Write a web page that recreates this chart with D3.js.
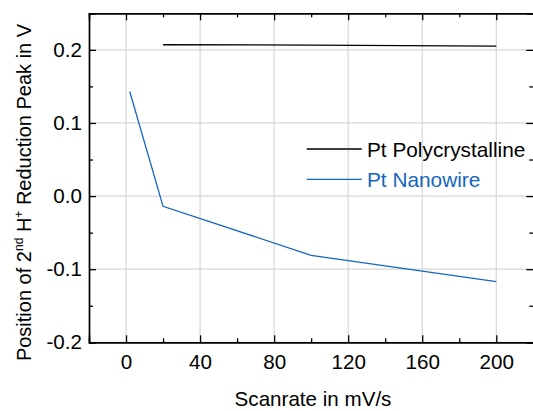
<!DOCTYPE html>
<html>
<head>
<meta charset="utf-8">
<script src="https://cdn.jsdelivr.net/npm/d3@7"></script>
<style>
  body { margin: 0; background: #fff; }
  text { font-family: "Liberation Sans", Arial, sans-serif; }
</style>
</head>
<body>
<svg id="chart" width="533" height="411"></svg>
<script>
// Data
const polyX = [20, 100, 200];
const polyY = [0.207, 0.2065, 0.205];
const nanoX = [2, 20, 100, 200];
const nanoY = [0.143, -0.014, -0.081, -0.117];
const xTicks = [0, 40, 80, 120, 160, 200];
const xMinorTicks = [20, 60, 100, 140, 180];
const yTicks = [-0.2, -0.1, 0.0, 0.1, 0.2];
const yMinorTicks = [-0.15, -0.05, 0.05, 0.15];
const seriesNames = ["Pt Polycrystalline", "Pt Nanowire"];
const seriesColors = ["#000000", "#1565c0"];

(function () {
const svg = d3.select("#chart");
const pLeft = 89, pRight = 533.3, pTop = 13.3, pBottom = 342.3;
const x = d3.scaleLinear().domain([-20, 220]).range([pLeft, pRight]);
const y = d3.scaleLinear().domain([-0.2, 0.25]).range([pBottom, pTop]);

// grid
const grid = svg.append("g");
grid.selectAll("line.gx").data(xTicks).join("line")
  .attr("x1", d => x(d)).attr("x2", d => x(d))
  .attr("y1", pTop).attr("y2", pBottom)
  .attr("stroke", "#d6d6d6").attr("stroke-width", 1.2);
grid.selectAll("line.gy").data(yTicks).join("line")
  .attr("y1", d => y(d)).attr("y2", d => y(d))
  .attr("x1", pLeft).attr("x2", pRight)
  .attr("stroke", "#d6d6d6").attr("stroke-width", 1.2);

// lines
const line = d3.line().x(d => x(d[0])).y(d => y(d[1]));
svg.append("path").datum(polyX.map((v, i) => [v, polyY[i]]))
  .attr("d", line).attr("fill", "none").attr("stroke", seriesColors[0]).attr("stroke-width", 1.3);
svg.append("path").datum(nanoX.map((v, i) => [v, nanoY[i]]))
  .attr("d", line).attr("fill", "none").attr("stroke", seriesColors[1]).attr("stroke-width", 1.3);

// axes (inward ticks)
const fmtY = d => d3.format(".1f")(d).replace("\u2212", "-");
const axB = svg.append("g").attr("transform", `translate(0,${pBottom})`)
  .call(d3.axisBottom(x).tickValues(xTicks).tickSize(-7).tickPadding(12).tickFormat(d3.format("d")));
const axBm = svg.append("g").attr("transform", `translate(0,${pBottom})`)
  .call(d3.axisBottom(x).tickValues(xMinorTicks).tickSize(-4).tickFormat(""));
const axT = svg.append("g").attr("transform", `translate(0,${pTop})`)
  .call(d3.axisTop(x).tickValues(xTicks).tickSize(-7).tickFormat(""));
const axTm = svg.append("g").attr("transform", `translate(0,${pTop})`)
  .call(d3.axisTop(x).tickValues(xMinorTicks).tickSize(-4).tickFormat(""));
const axL = svg.append("g").attr("transform", `translate(${pLeft},0)`)
  .call(d3.axisLeft(y).tickValues(yTicks).tickSize(-7).tickPadding(7).tickFormat(fmtY));
const axLm = svg.append("g").attr("transform", `translate(${pLeft},0)`)
  .call(d3.axisLeft(y).tickValues(yMinorTicks).tickSize(-4).tickFormat(""));
const axR = svg.append("g").attr("transform", `translate(${pRight},0)`)
  .call(d3.axisRight(y).tickValues(yTicks).tickSize(-7).tickFormat(""));
const axRm = svg.append("g").attr("transform", `translate(${pRight},0)`)
  .call(d3.axisRight(y).tickValues(yMinorTicks).tickSize(-4).tickFormat(""));

[axB, axBm, axT, axTm, axL, axLm, axR, axRm].forEach(g => {
  g.selectAll("path.domain").attr("stroke", "#000").attr("stroke-width", 1.4);
  g.selectAll(".tick line").attr("stroke", "#000").attr("stroke-width", 1.3);
  g.selectAll(".tick text").attr("font-size", 20.6).attr("fill", "#000")
    .attr("font-family", "Liberation Sans, Arial, sans-serif");
});

// axis titles
svg.append("text").attr("x", 313).attr("y", 406).attr("text-anchor", "middle")
  .attr("font-size", 20.6).text("Scanrate in mV/s");

const yt = svg.append("text").attr("transform", `translate(31,192.5) rotate(-90)`)
  .attr("text-anchor", "middle").attr("font-size", 20);
yt.append("tspan").text("Position of 2");
yt.append("tspan").attr("font-size", 12).attr("dy", -8).text("nd");
yt.append("tspan").attr("dy", 8).text(" H");
yt.append("tspan").attr("font-size", 12).attr("dy", -8).text("+");
yt.append("tspan").attr("dy", 8).text(" Reduction Peak in V");

// legend
const lg = svg.append("g");
seriesNames.forEach((name, i) => {
  const ly = 149 + i * 30.3;
  lg.append("line").attr("x1", 306.7).attr("x2", 361.7).attr("y1", ly).attr("y2", ly)
    .attr("stroke", seriesColors[i]).attr("stroke-width", 1.3);
  lg.append("text").attr("x", 367).attr("y", ly + 7.5).attr("font-size", 20.8)
    .attr("fill", seriesColors[i]).text(name);
});
})();
</script>
</body>
</html>
